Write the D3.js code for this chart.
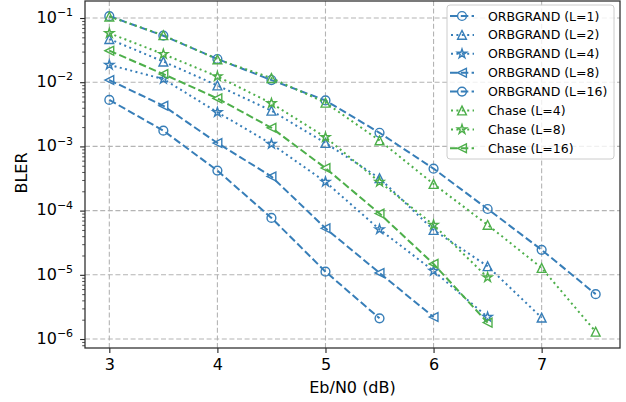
<!DOCTYPE html>
<html>
    <head>
        <meta charset="utf-8"/>
        <script src="https://d3js.org/d3.v7.min.js"></script>
        <style>
            body { margin: 0; background: #fff; }
            svg text { font-family: "DejaVu Sans", sans-serif; }
        </style>
    </head>
    <body>
        <div id="output"></div>
        <script>
            //BLER values, one array per decoder
            var snr = [3, 3.5, 4, 4.5, 5, 5.5, 6, 6.5, 7, 7.5];
            var orb1 = [0.107, 0.053, 0.023, 0.0108, 0.0052, 0.00163, 4.5e-4, 1.06e-4, 2.45e-5, 5.0e-6];
            var orb2 = [0.047, 0.021, 0.0089, 0.0036, 0.00113, 3.2e-4, 5.0e-5, 1.36e-5, 2.15e-6];
            var orb4 = [0.0186, 0.0112, 0.0034, 0.00109, 2.8e-4, 5.1e-5, 1.15e-5, 2.2e-6];
            var orb8 = [0.0108, 0.0043, 0.00113, 3.4e-4, 5.3e-5, 1.07e-5, 2.2e-6];
            var orb16 = [0.0053, 0.00176, 4.2e-4, 7.7e-5, 1.12e-5, 2.1e-6];
            var chase4 = [0.105, 0.054, 0.0227, 0.0116, 0.0048, 0.00124, 2.6e-4, 6.0e-5, 1.28e-5, 1.3e-6];
            var chase8 = [0.058, 0.0274, 0.0123, 0.0047, 0.00139, 2.8e-4, 6.0e-5, 9.1e-6];
            var chase16 = [0.031, 0.0134, 0.0056, 0.00195, 4.6e-4, 9.0e-5, 1.48e-5, 1.8e-6];

            var xTicks = [3, 4, 5, 6, 7];
            var yExps = [-1, -2, -3, -4, -5, -6];

            var blue = "#377eb8", green = "#4daf4a";
            var series = [
                {name: "ORBGRAND (L=1)", values: orb1, color: blue, dash: "dashed", marker: "circle"},
                {name: "ORBGRAND (L=2)", values: orb2, color: blue, dash: "dotted", marker: "up"},
                {name: "ORBGRAND (L=4)", values: orb4, color: blue, dash: "dotted", marker: "star"},
                {name: "ORBGRAND (L=8)", values: orb8, color: blue, dash: "dashed", marker: "left"},
                {name: "ORBGRAND (L=16)", values: orb16, color: blue, dash: "dashed", marker: "circle"},
                {name: "Chase (L=4)", values: chase4, color: green, dash: "dotted", marker: "up"},
                {name: "Chase (L=8)", values: chase8, color: green, dash: "dotted", marker: "star"},
                {name: "Chase (L=16)", values: chase16, color: green, dash: "dashed", marker: "left"}
            ];

            var W = 626, H = 402;
            var pLeft = 85, pRight = 620, pTop = 1, pBottom = 348;

            var svg = d3.select("#output").append("svg")
                .attr("width", W)
                .attr("height", H);

            var x = d3.scaleLinear().domain([2.775, 7.725]).range([pLeft, pRight]);
            var y = d3.scaleLog().domain([Math.pow(10, -6.14), Math.pow(10, -0.735)]).range([pBottom, pTop]);

            //grid
            var grid = svg.append("g");
            grid.selectAll("line.gx").data(xTicks).enter().append("line")
                .attr("x1", function(d) { return x(d); })
                .attr("x2", function(d) { return x(d); })
                .attr("y1", pTop).attr("y2", pBottom);
            grid.selectAll("line.gy").data(yExps).enter().append("line")
                .attr("x1", pLeft).attr("x2", pRight)
                .attr("y1", function(d) { return y(Math.pow(10, d)); })
                .attr("y2", function(d) { return y(Math.pow(10, d)); });
            grid.selectAll("line")
                .attr("stroke", "#b4b4b4")
                .attr("stroke-width", 1.1)
                .attr("stroke-dasharray", "5,2.6");

            //marker shapes in pixel units
            var ms = 4.4;
            function starPath(r) {
                var pts = [];
                for (var i = 0; i < 10; i++) {
                    var rr = (i % 2 === 0) ? r : r * 0.382;
                    var a = Math.PI / 2 + i * Math.PI / 5;
                    pts.push([rr * Math.cos(a), -rr * Math.sin(a)]);
                }
                return "M" + pts.join("L") + "Z";
            }
            function markerPath(kind) {
                if (kind === "circle") return d3.arc()({innerRadius: 0, outerRadius: ms, startAngle: 0, endAngle: 2 * Math.PI});
                if (kind === "up") return "M0," + (-ms) + "L" + (-ms) + "," + ms + "L" + ms + "," + ms + "Z";
                if (kind === "left") return "M" + (-ms) + ",0L" + ms + "," + (-ms) + "L" + ms + "," + ms + "Z";
                return starPath(ms * 1.1);
            }
            var dashes = {dashed: "7.5,3.3", dotted: "2,3.4"};

            var line = d3.line()
                .x(function(d) { return x(d[0]); })
                .y(function(d) { return y(d[1]); });

            var plot = svg.append("g");
            series.forEach(function(s) {
                var pts = s.values.map(function(v, i) { return [snr[i], v]; });
                var g = plot.append("g");
                g.append("path")
                    .attr("d", line(pts))
                    .attr("fill", "none")
                    .attr("stroke", s.color)
                    .attr("stroke-width", 2)
                    .attr("stroke-dasharray", dashes[s.dash]);
                g.selectAll("path.m").data(pts).enter().append("path")
                    .attr("class", "m")
                    .attr("d", markerPath(s.marker))
                    .attr("transform", function(d) { return "translate(" + x(d[0]) + "," + y(d[1]) + ")"; })
                    .attr("fill", "none")
                    .attr("stroke", s.color)
                    .attr("stroke-width", 1.4);
            });

            //x axis
            var xAxis = svg.append("g")
                .attr("transform", "translate(0," + pBottom + ")")
                .call(d3.axisBottom(x).tickValues(xTicks).tickSize(4.9).tickPadding(6).tickFormat(d3.format("d")));
            xAxis.select(".domain").remove();
            xAxis.selectAll("text")
                .style("font-size", "16px")
                .style("font-family", "DejaVu Sans")
                .attr("fill", "#000");

            //y axis, major + minor log ticks
            var minor = [];
            for (var e = -7; e <= -1; e++) {
                for (var k = 2; k <= 9; k++) {
                    var v = k * Math.pow(10, e);
                    if (v > y.domain()[0] && v < y.domain()[1]) minor.push(v);
                }
            }
            var yMinor = svg.append("g")
                .attr("transform", "translate(" + pLeft + ",0)")
                .call(d3.axisLeft(y).tickValues(minor).tickSize(2.8).tickFormat(""));
            yMinor.select(".domain").remove();
            yMinor.selectAll(".tick line").attr("stroke-width", 0.8);

            var yAxis = svg.append("g")
                .attr("transform", "translate(" + pLeft + ",0)")
                .call(d3.axisLeft(y).tickValues(yExps.map(function(d) { return Math.pow(10, d); })).tickSize(4.9).tickPadding(7));
            yAxis.select(".domain").remove();
            yAxis.selectAll(".tick line").attr("stroke-width", 1.1);
            yAxis.selectAll(".tick text").each(function(d) {
                var t = d3.select(this).text(null)
                    .attr("fill", "#000")
                    .attr("dy", "0.42em")
                    .style("font-family", "DejaVu Sans");
                t.append("tspan").style("font-size", "16px").text("10");
                t.append("tspan").style("font-size", "11px").attr("dy", "-6.5").text("\u2212" + Math.round(-Math.log10(d)));
            });
            svg.selectAll(".tick line").attr("stroke", "#222");
            xAxis.selectAll(".tick line").attr("stroke-width", 1.1);

            //frame
            svg.append("rect")
                .attr("x", pLeft).attr("y", pTop)
                .attr("width", pRight - pLeft).attr("height", pBottom - pTop)
                .attr("fill", "none")
                .attr("stroke", "#333")
                .attr("stroke-width", 1.3);

            //axis labels
            svg.append("text")
                .attr("x", (pLeft + pRight) / 2)
                .attr("y", 393)
                .attr("text-anchor", "middle")
                .style("font-size", "16px")
                .text("Eb/N0 (dB)");
            svg.append("text")
                .attr("transform", "translate(27,173) rotate(-90)")
                .attr("text-anchor", "middle")
                .style("font-size", "16px")
                .text("BLER");

            //legend
            var lg = svg.append("g").attr("transform", "translate(447,5)");
            lg.append("rect")
                .attr("width", 167).attr("height", 154)
                .attr("rx", 3)
                .attr("fill", "#fff").attr("fill-opacity", 0.8)
                .attr("stroke", "#ccc");
            series.forEach(function(s, i) {
                var row = lg.append("g").attr("transform", "translate(0," + (11 + i * 18.9) + ")");
                row.append("line")
                    .attr("x1", 3).attr("x2", 27)
                    .attr("stroke", s.color)
                    .attr("stroke-width", 2)
                    .attr("stroke-dasharray", s.dash === "dashed" ? "7.5,3.3" : "2,3.4")
                    .attr("stroke-dashoffset", s.dash === "dashed" ? 0 : -1);
                row.append("path")
                    .attr("d", markerPath(s.marker))
                    .attr("transform", "translate(15,0)")
                    .attr("fill", "#fff")
                    .attr("fill-opacity", 0)
                    .attr("stroke", s.color)
                    .attr("stroke-width", 1.4);
                row.append("text")
                    .attr("x", 41)
                    .attr("dy", "0.36em")
                    .style("font-size", "12.5px")
                    .text(s.name);
            });
        </script>
    </body>
</html>
